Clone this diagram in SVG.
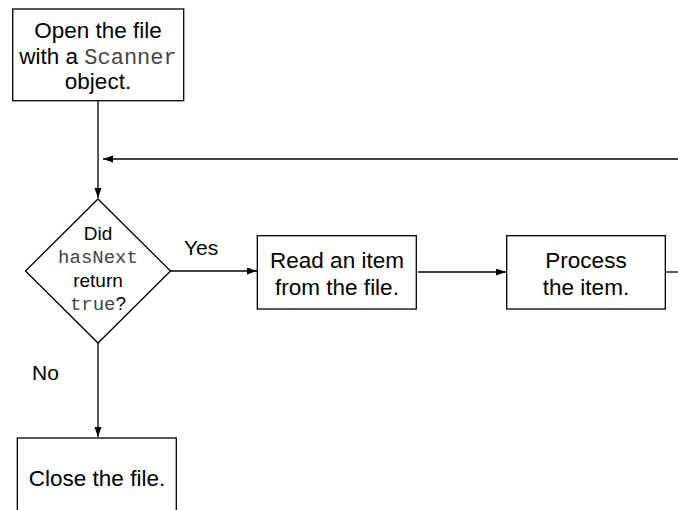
<svg xmlns="http://www.w3.org/2000/svg" width="678" height="510" viewBox="0 0 678 510">
<style>
.box{fill:#fff;stroke:#000;stroke-width:1.3}
.t{font-family:"Liberation Sans",Arial,sans-serif;font-size:22.5px;fill:#000;text-anchor:middle}
.d{font-family:"Liberation Sans",Arial,sans-serif;font-size:19px;fill:#000;text-anchor:middle}
.m{font-family:"Liberation Mono","Courier New",monospace;fill:#444}
.l{font-family:"Liberation Sans",Arial,sans-serif;font-size:21px;fill:#000}
.c{fill:none;stroke:#000;stroke-width:1.3}
</style>
<defs>
<marker id="ah" markerUnits="userSpaceOnUse" markerWidth="11" markerHeight="8" refX="10" refY="3.5" orient="auto">
<path d="M0,0 L10,3.5 L0,7 z" fill="#000"/>
</marker>
</defs>
<rect width="678" height="510" fill="#fff"/>
<g id="connectors">
<line class="c" x1="98" y1="101" x2="98" y2="198" marker-end="url(#ah)"/>
<line class="c" x1="678" y1="159" x2="103" y2="159" marker-end="url(#ah)"/>
<line class="c" x1="170" y1="271" x2="257" y2="271" marker-end="url(#ah)"/>
<line class="c" x1="418" y1="272" x2="506" y2="272" marker-end="url(#ah)"/>
<line class="c" x1="665" y1="272" x2="678" y2="272"/>
<line class="c" x1="98" y1="343" x2="98" y2="437" marker-end="url(#ah)"/>
<text class="l" x="184" y="255">Yes</text>
<text class="l" x="32" y="380">No</text>
</g>
<g id="open">
<rect class="box" x="12.7" y="9" width="171" height="91.7"/>
<text class="t" x="98" y="37.5">Open the file</text>
<text class="t" x="98" y="63.5">with a <tspan class="m" font-size="22px">Scanner</tspan></text>
<text class="t" x="98" y="88.5">object.</text>
</g>
<g id="decision">
<polygon class="box" points="98,199 170.5,271 98,343 25.5,271"/>
<text class="d" x="98" y="240">Did</text>
<text class="d" x="98" y="262.5"><tspan class="m">hasNext</tspan></text>
<text class="d" x="98" y="286.5">return</text>
<text class="d" x="98" y="309.5"><tspan class="m">true</tspan>?</text>
</g>
<g id="read">
<rect class="box" x="257.3" y="235.7" width="159" height="73.3"/>
<text class="t" x="337" y="268.3">Read an item</text>
<text class="t" x="337" y="295">from the file.</text>
</g>
<g id="process">
<rect class="box" x="506.7" y="235.7" width="158.6" height="73.3"/>
<text class="t" x="586" y="268.3">Process</text>
<text class="t" x="586" y="295">the item.</text>
</g>
<g id="close">
<rect class="box" x="17.3" y="438" width="159" height="90"/>
<text class="t" x="97" y="486">Close the file.</text>
</g>
</svg>
